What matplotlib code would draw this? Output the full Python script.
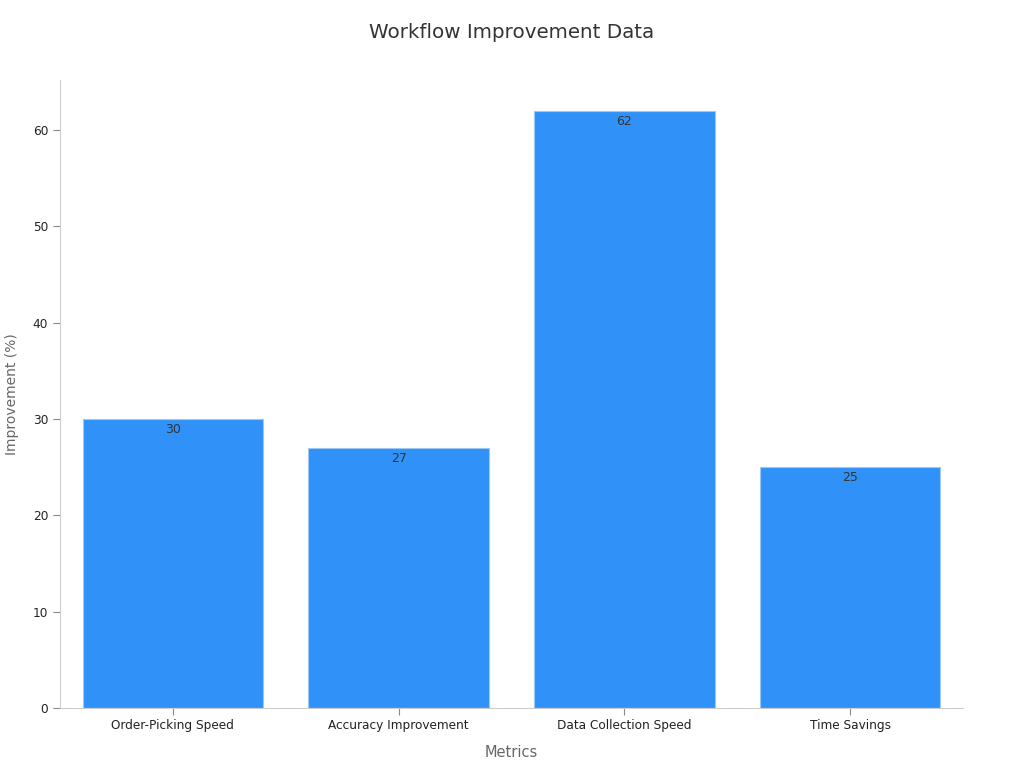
import matplotlib
matplotlib.use("Agg")
import matplotlib.pyplot as plt

# chart data
metrics = ["Order-Picking Speed", "Accuracy Improvement", "Data Collection Speed", "Time Savings"]
improvement = [30, 27, 62, 25]

bar_color = "#3092F8"

fig = plt.figure(figsize=(10.24, 7.68), dpi=100)
ax = fig.add_axes([0.0586, 0.078, 0.8818, 0.818])

bars = ax.bar(range(len(metrics)), improvement, width=0.8, color=bar_color,
              edgecolor="#9cc8f5", linewidth=0.8)

# value labels just inside the top of each bar
for b, v in zip(bars, improvement):
    ax.annotate(str(v), (b.get_x() + b.get_width() / 2, v), xytext=(0, -3),
                textcoords="offset points", ha="center", va="top",
                fontsize=9, color="#333333")

ax.set_xlim(-0.5, 3.5)
ax.set_ylim(0, 65.2)
ax.set_xticks(range(len(metrics)))
ax.set_xticklabels(metrics)
ax.set_yticks([0, 10, 20, 30, 40, 50, 60])

for s in ["top", "right"]:
    ax.spines[s].set_visible(False)
for s in ["left", "bottom"]:
    ax.spines[s].set_color("#cccccc")
    ax.spines[s].set_linewidth(0.8)

ax.tick_params(axis="both", colors="#888888", labelcolor="#222222", labelsize=8.7, length=5)
ax.tick_params(axis="x", pad=2.5)

ax.set_xlabel("Metrics", fontsize=10.5, color="#666666", labelpad=10)
ax.set_ylabel("Improvement (%)", fontsize=10, color="#666666", labelpad=10)
fig.suptitle("Workflow Improvement Data", fontsize=14.3, color="#333333", y=0.97)

fig.savefig("out.png", dpi=100)
